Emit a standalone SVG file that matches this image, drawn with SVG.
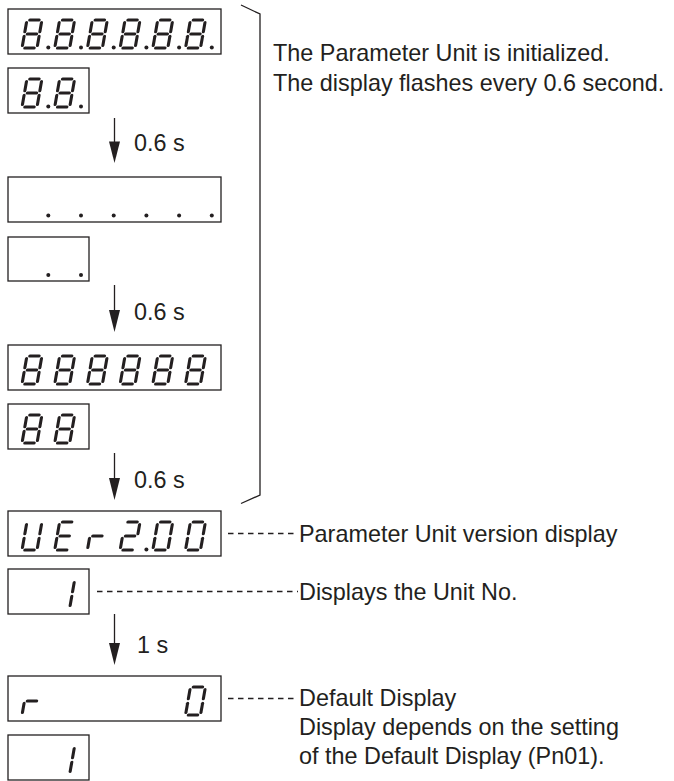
<svg xmlns="http://www.w3.org/2000/svg" xmlns:xlink="http://www.w3.org/1999/xlink" width="674" height="781" viewBox="0 0 674 781">
<style>
.box{fill:#fff;stroke:#231f20;stroke-width:1.3}
.seg{stroke:#231f20;stroke-width:3.1;stroke-linecap:round;fill:none}
.dot{fill:#231f20}
.txt{font-family:"Liberation Sans",Arial,Helvetica,sans-serif;font-size:23.4px;fill:#231f20}
.ln{stroke:#231f20;stroke-width:1.3;fill:none}
.dash{stroke:#231f20;stroke-width:1.4;fill:none;stroke-dasharray:5.5 4.5}
.head{fill:#231f20}
</style>
<defs>
<line id="sa" class="seg" x1="2.8" y1="-28" x2="12.2" y2="-28"/>
<line id="sb" class="seg" x1="15" y1="-25.4" x2="15" y2="-16.2"/>
<line id="sc" class="seg" x1="15" y1="-11.8" x2="15" y2="-2.6"/>
<line id="sd" class="seg" x1="2.8" y1="0" x2="12.2" y2="0"/>
<line id="se" class="seg" x1="0" y1="-11.8" x2="0" y2="-2.6"/>
<line id="sf" class="seg" x1="0" y1="-25.4" x2="0" y2="-16.2"/>
<line id="sg" class="seg" x1="2.8" y1="-14" x2="12.2" y2="-14"/>
<g id="d8"><use href="#sa"/><use href="#sb"/><use href="#sc"/><use href="#sd"/><use href="#se"/><use href="#sf"/><use href="#sg"/></g>
<g id="d0"><use href="#sa"/><use href="#sb"/><use href="#sc"/><use href="#sd"/><use href="#se"/><use href="#sf"/></g>
<g id="dU"><use href="#sb"/><use href="#sc"/><use href="#sd"/><use href="#se"/><use href="#sf"/></g>
<g id="dE"><use href="#sa"/><use href="#sd"/><use href="#se"/><use href="#sf"/><use href="#sg"/></g>
<g id="dr"><use href="#se"/><use href="#sg"/></g>
<g id="d2"><use href="#sa"/><use href="#sb"/><use href="#sg"/><use href="#se"/><use href="#sd"/></g>
<g id="d1"><use href="#sb"/><use href="#sc"/></g>
</defs>

<g id="display-all-8-dots">
<rect class="box" x="8" y="9" width="213" height="45"/>
<use href="#d8" transform="translate(22,48) skewX(-10)"/><circle class="dot" cx="48.3" cy="47.5" r="2"/>
<use href="#d8" transform="translate(54.7,48) skewX(-10)"/><circle class="dot" cx="81" cy="47.5" r="2"/>
<use href="#d8" transform="translate(87.4,48) skewX(-10)"/><circle class="dot" cx="113.7" cy="47.5" r="2"/>
<use href="#d8" transform="translate(120.1,48) skewX(-10)"/><circle class="dot" cx="146.4" cy="47.5" r="2"/>
<use href="#d8" transform="translate(152.8,48) skewX(-10)"/><circle class="dot" cx="179.1" cy="47.5" r="2"/>
<use href="#d8" transform="translate(185.5,48) skewX(-10)"/><circle class="dot" cx="211.8" cy="47.5" r="2"/>
</g>
<g id="display-small-8-dots">
<rect class="box" x="8" y="68" width="81" height="45"/>
<use href="#d8" transform="translate(22,107) skewX(-10)"/><circle class="dot" cx="48.3" cy="106.5" r="2"/>
<use href="#d8" transform="translate(54.7,107) skewX(-10)"/><circle class="dot" cx="81" cy="106.5" r="2"/>
</g>
<g id="display-dots">
<rect class="box" x="8" y="177" width="213" height="45"/>
<circle class="dot" cx="48.3" cy="215.5" r="2"/><circle class="dot" cx="81" cy="215.5" r="2"/><circle class="dot" cx="113.7" cy="215.5" r="2"/><circle class="dot" cx="146.4" cy="215.5" r="2"/><circle class="dot" cx="179.1" cy="215.5" r="2"/><circle class="dot" cx="211.8" cy="215.5" r="2"/>
</g>
<g id="display-small-dots">
<rect class="box" x="8" y="237" width="81" height="44"/>
<circle class="dot" cx="48.3" cy="275" r="2"/><circle class="dot" cx="81" cy="275" r="2"/>
</g>
<g id="display-all-8">
<rect class="box" x="8" y="345" width="213" height="45"/>
<use href="#d8" transform="translate(22,384) skewX(-10)"/>
<use href="#d8" transform="translate(54.7,384) skewX(-10)"/>
<use href="#d8" transform="translate(87.4,384) skewX(-10)"/>
<use href="#d8" transform="translate(120.1,384) skewX(-10)"/>
<use href="#d8" transform="translate(152.8,384) skewX(-10)"/>
<use href="#d8" transform="translate(185.5,384) skewX(-10)"/>
</g>
<g id="display-small-8">
<rect class="box" x="8" y="404" width="81" height="45"/>
<use href="#d8" transform="translate(22,443) skewX(-10)"/>
<use href="#d8" transform="translate(54.7,443) skewX(-10)"/>
</g>
<g id="display-version">
<rect class="box" x="8" y="511" width="213" height="45"/>
<use href="#dU" transform="translate(22,550) skewX(-10)"/>
<use href="#dE" transform="translate(54.7,550) skewX(-10)"/>
<use href="#dr" transform="translate(87.4,550) skewX(-10)"/>
<use href="#d2" transform="translate(120.1,550) skewX(-10)"/><circle class="dot" cx="146.4" cy="549.5" r="2"/>
<use href="#d0" transform="translate(152.8,550) skewX(-10)"/>
<use href="#d0" transform="translate(185.5,550) skewX(-10)"/>
</g>
<g id="display-unit-no">
<rect class="box" x="8" y="569" width="81" height="45"/>
<use href="#d1" transform="translate(54.7,608) skewX(-10)"/>
</g>
<g id="display-default">
<rect class="box" x="8" y="676" width="213" height="45"/>
<use href="#dr" transform="translate(22,715) skewX(-10)"/>
<use href="#d0" transform="translate(185.5,715) skewX(-10)"/>
</g>
<g id="display-default-small">
<rect class="box" x="8" y="735" width="81" height="45"/>
<use href="#d1" transform="translate(54.7,774) skewX(-10)"/>
</g>

<g id="connectors">
<polyline class="ln" points="241,5 260,14 260,495 241,503.5"/>
<line class="ln" x1="114.5" y1="118" x2="114.5" y2="145"/>
<polygon class="head" points="109,141.5 120,141.5 114.5,163"/>
<line class="ln" x1="114.5" y1="285" x2="114.5" y2="313"/>
<polygon class="head" points="109,310 120,310 114.5,332"/>
<line class="ln" x1="114.5" y1="453" x2="114.5" y2="481"/>
<polygon class="head" points="109,478 120,478 114.5,500"/>
<line class="ln" x1="114.5" y1="614" x2="114.5" y2="646"/>
<polygon class="head" points="109,643 120,643 114.5,665"/>
<line class="dash" x1="228" y1="533.5" x2="298" y2="533.5"/>
<line class="dash" x1="97" y1="591.5" x2="298" y2="591.5"/>
<line class="dash" x1="228" y1="698.5" x2="298" y2="698.5"/>
</g>

<g id="labels">
<text class="txt" x="273" y="61">The Parameter Unit is initialized.</text>
<text class="txt" x="273" y="91">The display flashes every 0.6 second.</text>
<text class="txt" x="134" y="151">0.6 s</text>
<text class="txt" x="134" y="320">0.6 s</text>
<text class="txt" x="134" y="488">0.6 s</text>
<text class="txt" x="137" y="653">1 s</text>
<text class="txt" x="299" y="542">Parameter Unit version display</text>
<text class="txt" x="299" y="600">Displays the Unit No.</text>
<text class="txt" x="299" y="706">Default Display</text>
<text class="txt" x="299" y="735">Display depends on the setting</text>
<text class="txt" x="299" y="764">of the Default Display (Pn01).</text>
</g>
</svg>
